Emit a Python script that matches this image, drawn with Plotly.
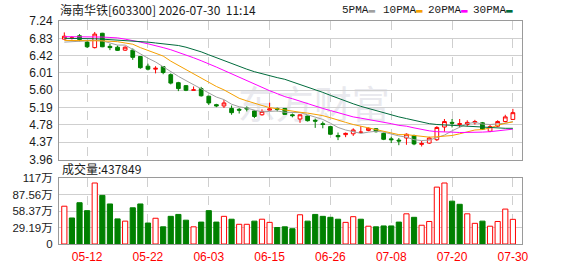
import plotly.graph_objects as go

# ---------------- data ----------------
dates = [
    "2026-05-07", "2026-05-08", "2026-05-11", "2026-05-12", "2026-05-13", "2026-05-14", "2026-05-15",
    "2026-05-18", "2026-05-19", "2026-05-20", "2026-05-21", "2026-05-22", "2026-05-25", "2026-05-26",
    "2026-05-27", "2026-05-28", "2026-05-29", "2026-06-01", "2026-06-02", "2026-06-03", "2026-06-04",
    "2026-06-05", "2026-06-08", "2026-06-09", "2026-06-10", "2026-06-11", "2026-06-12", "2026-06-15",
    "2026-06-16", "2026-06-17", "2026-06-18", "2026-06-22", "2026-06-23", "2026-06-24", "2026-06-25",
    "2026-06-26", "2026-06-29", "2026-06-30", "2026-07-01", "2026-07-02", "2026-07-03", "2026-07-06",
    "2026-07-07", "2026-07-08", "2026-07-09", "2026-07-10", "2026-07-13", "2026-07-14", "2026-07-15",
    "2026-07-16", "2026-07-17", "2026-07-20", "2026-07-21", "2026-07-22", "2026-07-23", "2026-07-24",
    "2026-07-27", "2026-07-28", "2026-07-29", "2026-07-30",
]
opens = [6.81, 6.83, 6.89, 6.74, 6.61, 6.95, 6.64, 6.62, 6.55, 6.55,
         6.40, 6.17, 6.10, 6.16, 5.97, 5.78, 5.71, 5.60, 5.64, 5.46,
         5.26, 5.23, 5.17, 5.15, 5.18, 5.11, 5.02, 5.13, 5.17, 5.17,
         5.02, 4.92, 4.99, 4.89, 4.81, 4.74, 4.53, 4.55, 4.57, 4.60,
         4.65, 4.69, 4.58, 4.45, 4.42, 4.47, 4.53, 4.32, 4.35, 4.43,
         4.73, 4.84, 4.79, 4.79, 4.83, 4.83, 4.63, 4.75, 4.86, 4.91]
highs = [6.97, 6.88, 6.93, 6.77, 6.98, 6.96, 6.70, 6.66, 6.64, 6.59,
         6.40, 6.23, 6.17, 6.17, 6.00, 5.80, 5.72, 5.69, 5.68, 5.47,
         5.28, 5.37, 5.24, 5.18, 5.22, 5.13, 5.15, 5.31, 5.19, 5.18,
         5.05, 5.03, 5.00, 4.93, 4.86, 4.76, 4.60, 4.60, 4.70, 4.75,
         4.72, 4.70, 4.60, 4.50, 4.47, 4.58, 4.55, 4.40, 4.50, 4.75,
         4.92, 4.92, 4.92, 4.89, 4.90, 4.85, 4.80, 4.89, 5.02, 5.16]
lows = [6.80, 6.80, 6.76, 6.60, 6.59, 6.62, 6.55, 6.53, 6.53, 6.32,
        6.11, 6.07, 6.00, 5.98, 5.74, 5.58, 5.58, 5.60, 5.45, 5.25,
        5.20, 5.18, 5.02, 5.05, 5.10, 4.94, 5.00, 5.12, 5.10, 5.02,
        4.96, 4.83, 4.86, 4.71, 4.70, 4.55, 4.42, 4.49, 4.52, 4.58,
        4.63, 4.60, 4.42, 4.35, 4.30, 4.31, 4.30, 4.27, 4.33, 4.40,
        4.62, 4.72, 4.72, 4.75, 4.79, 4.66, 4.61, 4.73, 4.84, 4.90]
closes = [6.88, 6.84, 6.80, 6.63, 6.93, 6.63, 6.61, 6.545, 6.62, 6.38,
          6.135, 6.10, 6.12, 6.02, 5.77, 5.64, 5.60, 5.61, 5.47, 5.30,
          5.23, 5.30, 5.07, 5.13, 5.16, 4.98, 5.10, 5.16, 5.15, 5.03,
          5.00, 5.02, 4.88, 4.87, 4.79, 4.56, 4.50, 4.58, 4.66, 4.61,
          4.70, 4.62, 4.44, 4.43, 4.40, 4.56, 4.33, 4.34, 4.47, 4.72,
          4.86, 4.82, 4.81, 4.84, 4.86, 4.68, 4.74, 4.86, 4.97, 5.07]
volumes = [671000, 462000, 733000, 592000, 1083000, 863000, 711000, 446000, 406000, 643000,
           711000, 372000, 457000, 305000, 491000, 525000, 423000, 305000, 389000, 592000,
           389000, 491000, 440000, 350000, 350000, 406000, 440000, 384000, 293000, 305000,
           271000, 519000, 406000, 525000, 491000, 474000, 440000, 384000, 485000, 440000,
           316000, 305000, 321000, 321000, 389000, 536000, 474000, 333000, 400000, 1010000,
           1083000, 761000, 705000, 536000, 367000, 406000, 316000, 400000, 620000, 437849]
ma5 = [6.74, 6.75, 6.76, 6.77, 6.78, 6.77, 6.72, 6.67, 6.67, 6.56,
       6.46, 6.36, 6.27, 6.15, 6.03, 5.93, 5.83, 5.73, 5.62, 5.52,
       5.44, 5.38, 5.27, 5.21, 5.18, 5.13, 5.09, 5.10, 5.11, 5.08,
       5.08, 5.07, 5.02, 4.96, 4.91, 4.82, 4.72, 4.66, 4.62, 4.58,
       4.61, 4.63, 4.61, 4.56, 4.52, 4.49, 4.43, 4.41, 4.42, 4.48,
       4.54, 4.64, 4.73, 4.81, 4.84, 4.80, 4.79, 4.80, 4.82, 4.86]
ma10 = [6.78, 6.78, 6.78, 6.78, 6.77, 6.77, 6.76, 6.75, 6.72, 6.69,
        6.61, 6.54, 6.47, 6.41, 6.29, 6.19, 6.09, 6.00, 5.89, 5.78,
        5.69, 5.61, 5.50, 5.41, 5.35, 5.29, 5.24, 5.19, 5.16, 5.13,
        5.11, 5.08, 5.06, 5.03, 5.00, 4.95, 4.89, 4.84, 4.79, 4.75,
        4.72, 4.68, 4.63, 4.59, 4.55, 4.55, 4.53, 4.51, 4.49, 4.50,
        4.52, 4.53, 4.57, 4.61, 4.66, 4.67, 4.71, 4.77, 4.82, 4.85]
ma20 = [6.87, 6.87, 6.87, 6.86, 6.86, 6.86, 6.85, 6.84, 6.81, 6.78,
        6.74, 6.70, 6.66, 6.61, 6.56, 6.50, 6.43, 6.37, 6.30, 6.23,
        6.15, 6.07, 5.99, 5.91, 5.82, 5.74, 5.66, 5.59, 5.52, 5.45,
        5.40, 5.34, 5.28, 5.22, 5.17, 5.12, 5.07, 5.01, 4.97, 4.94,
        4.91, 4.88, 4.85, 4.81, 4.77, 4.75, 4.71, 4.67, 4.64, 4.62,
        4.62, 4.61, 4.60, 4.60, 4.60, 4.61, 4.62, 4.64, 4.65, 4.68]
ma30 = [6.83, 6.83, 6.83, 6.82, 6.82, 6.81, 6.80, 6.79, 6.78, 6.77,
        6.76, 6.74, 6.72, 6.70, 6.68, 6.66, 6.62, 6.57, 6.51, 6.44,
        6.37, 6.30, 6.23, 6.16, 6.10, 6.04, 5.99, 5.94, 5.90, 5.86,
        5.80, 5.74, 5.68, 5.62, 5.55, 5.48, 5.41, 5.34, 5.28, 5.22,
        5.17, 5.12, 5.06, 5.01, 4.97, 4.93, 4.89, 4.84, 4.81, 4.79,
        4.78, 4.76, 4.75, 4.75, 4.74, 4.73, 4.71, 4.70, 4.70, 4.70]

price_ticks = [3.96, 4.37, 4.78, 5.19, 5.60, 6.01, 6.42, 6.83, 7.24]
vol_ticks = [0, 291875, 583750, 875625, 1167500]
vol_tick_labels = ["0", "29.19万", "58.37万", "87.56万", "117万"]
date_ticks = ["2026-05-12", "2026-05-22", "2026-06-03", "2026-06-15",
              "2026-06-26", "2026-07-08", "2026-07-20", "2026-07-30"]
date_tick_labels = ["05-12", "05-22", "06-03", "06-15", "06-26", "07-08", "07-20", "07-30"]
ma_names = ["5PMA", "10PMA", "20PMA", "30PMA"]
title_text = "海南华铁[603300] 2026-07-30  11:14"
volume_label = "成交量"
watermark = "东方财富"

# ---------------- styles ----------------
RED = "#ff0000"
GREEN = "#008000"
MA_COLORS = ["#a0a0a0", "#f5a000", "#ff00ff", "#006b3c"]
GRID = "#cfcfcf"
BORDER = "#9a9a9a"
NUM_FONT = "Liberation Sans, Arial, Noto Sans CJK SC"
CJK_FONT = "Noto Sans CJK SC, Liberation Sans"

fig = go.Figure()

fig.add_trace(go.Candlestick(
    x=dates, open=opens, high=highs, low=lows, close=closes,
    increasing=dict(line=dict(color=RED, width=1), fillcolor="#ffffff"),
    decreasing=dict(line=dict(color=GREEN, width=1), fillcolor=GREEN),
    whiskerwidth=0, xaxis="x", yaxis="y", showlegend=False, hoverinfo="skip",
))

for name, vals, col in zip(ma_names, [ma5, ma10, ma20, ma30], MA_COLORS):
    fig.add_trace(go.Scatter(x=dates, y=vals, mode="lines", name=name,
                             line=dict(color=col, width=1), xaxis="x", yaxis="y",
                             showlegend=False, hoverinfo="skip"))

vol_up = [closes[i] >= (closes[i - 1] if i > 0 else opens[0]) for i in range(len(closes))]
fig.add_trace(go.Bar(
    x=dates, y=volumes, xaxis="x2", yaxis="y2", showlegend=False, hoverinfo="skip",
    marker=dict(color=["#ffffff" if u else GREEN for u in vol_up],
                line=dict(color=[RED if u else GREEN for u in vol_up], width=1)),
))

PL, PR, PT, PB = 55, 56, 21, 21
W, H = 578, 276
ph = H - PT - PB
pw = W - PL - PR


def py(ypix):
    return (H - PB - ypix) / ph


def px(xpix):
    return (xpix - PL) / pw


xrange_ = [-0.7, 60.2]
common_x = dict(type="category", range=xrange_, tickvals=date_ticks, showgrid=True,
                gridcolor=GRID, griddash="dash", gridwidth=1, showline=True,
                linecolor=BORDER, linewidth=1, mirror=True, ticks="", zeroline=False,
                fixedrange=True)

fig.update_layout(
    width=W, height=H,
    margin=dict(l=PL, r=PR, t=PT, b=PB),
    paper_bgcolor="white", plot_bgcolor="white",
    showlegend=False, bargap=0.32,
    xaxis=dict(**common_x, anchor="y", domain=[0, 1], showticklabels=False,
               rangeslider=dict(visible=False)),
    yaxis=dict(domain=[py(166.4), 1], range=[price_ticks[0], price_ticks[-1]],
               tickvals=price_ticks, ticktext=[f"{v:.2f}" for v in price_ticks],
               showgrid=True, gridcolor=GRID, gridwidth=1, showline=True,
               linecolor=BORDER, mirror=True, zeroline=False, ticks="",
               ticklabelstandoff=3,
               tickfont=dict(family=NUM_FONT, size=12, color="#1a1a1a")),
    xaxis2=dict(**common_x, anchor="y2", domain=[0, 1], ticktext=date_tick_labels,
                ticklabelstandoff=2,
                tickfont=dict(family=NUM_FONT, size=12, color=RED)),
    yaxis2=dict(domain=[0, py(186)], range=[vol_ticks[0], vol_ticks[-1]],
                tickvals=vol_ticks, ticktext=vol_tick_labels,
                showgrid=True, gridcolor=GRID, gridwidth=1, showline=True,
                linecolor=BORDER, mirror=True, zeroline=False, ticks="",
                ticklabelstandoff=3,
                tickfont=dict(family=NUM_FONT, size=11.5, color="#1a1a1a")),
    font=dict(family=CJK_FONT),
)

annotations = [
    dict(text=title_text, xref="paper", yref="paper", x=px(54), y=py(9),
         xanchor="left", yanchor="middle", showarrow=False,
         font=dict(family=CJK_FONT, size=12, color="#1a1a1a")),
    dict(text=f"{volume_label}:{volumes[-1]}", xref="paper", yref="paper", x=px(56), y=py(176),
         xanchor="left", yanchor="middle", showarrow=False,
         font=dict(family=CJK_FONT, size=12, color="#1a1a1a")),
]
legend_x = [338, 380, 425, 471]
for name, col, lx in zip(ma_names, MA_COLORS, legend_x):
    annotations.append(dict(
        text=f"{name}<span style='color:{col}'>▬</span>", xref="paper", yref="paper",
        x=px(lx), y=py(9), xanchor="left", yanchor="middle", showarrow=False,
        font=dict(family="Liberation Mono, DejaVu Sans Mono", size=11, color="#1a1a1a")))
fig.update_layout(annotations=annotations)

fig.add_shape(type="rect", xref="paper", yref="paper",
              x0=px(240), x1=px(384), y0=py(130), y1=py(94),
              line=dict(width=0), fillcolor="rgba(0,0,0,0)", layer="below",
              label=dict(text=watermark, font=dict(family=CJK_FONT, size=38, color="#e9e9ee"),
                         textposition="middle center"))

fig.write_html("out.html")
